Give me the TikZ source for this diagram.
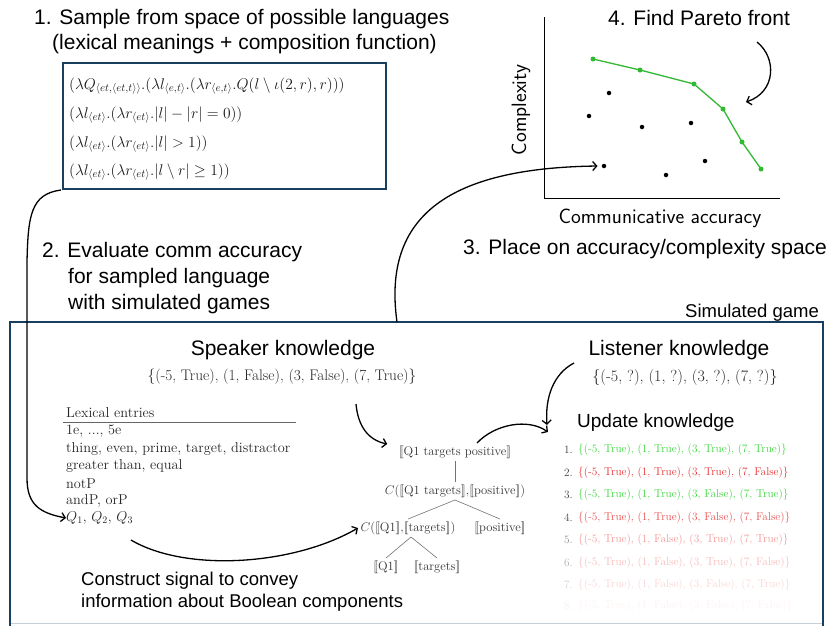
\RequirePackage{fix-cm}
\documentclass[tikz,border=0pt]{standalone}
\usepackage{fontspec}
\newfontfamily\arial{Liberation Sans}
\usetikzlibrary{arrows.meta}
\definecolor{navy}{RGB}{24,62,96}
\definecolor{pgreen}{RGB}{50,185,50}
\definecolor{tgreen}{RGB}{60,215,60}
\definecolor{tred}{RGB}{232,50,50}
\newcommand{\dlb}{\ensuremath{[\![}}
\newcommand{\drb}{\ensuremath{]\!]}}
\begin{document}
\begin{tikzpicture}[x=1pt,y=-1pt,
  hd/.style={font=\arial\fontsize{21}{24}\selectfont, inner sep=0, anchor=base west},
  sm/.style={font=\arial\fontsize{18.5}{22}\selectfont, inner sep=0, anchor=base west},
  frm/.style={font=\fontsize{15.5}{18}\selectfont, inner sep=0, anchor=west, text=black!90},
  lex/.style={font=\fontsize{14.3}{17}\selectfont, inner sep=0, anchor=west, text=black!85},
  kn/.style={font=\fontsize{15.3}{18}\selectfont, inner sep=0, text=black!85},
  tr/.style={font=\fontsize{12.6}{15}\selectfont, inner sep=2.5pt, text=black!80},
  trl/.style={draw=black!55, line width=0.6pt},
  lst/.style={font=\fontsize{11.3}{13}\selectfont, inner sep=0, anchor=west},
  num/.style={font=\fontsize{11.3}{13}\selectfont, inner sep=0, anchor=east},
  arr/.style={-{Straight Barb[length=4pt,width=9pt]}, line width=1.3pt},
  dot/.style={circle, fill=black, inner sep=0, minimum size=4.5pt},
  gdot/.style={circle, fill=pgreen, inner sep=0, minimum size=5pt},
  axl/.style={font=\sffamily\fontsize{20.8}{24}\selectfont, inner sep=0}]
\useasboundingbox (0,0) rectangle (828,625);
\fill[white] (0,0) rectangle (828,625);

% Step 1
\node[hd] (h1a) at (34,24) {1. Sample from space of possible languages};
\node[hd] (h1b) at (52,49) {(lexical meanings + composition function)};
\node[draw=navy, line width=2pt, minimum width=323pt, minimum height=126pt, anchor=north west, inner sep=0] (box1) at (62,62) {};
\node[frm] (f1) at (69,86) {$(\lambda Q_{\langle et,\langle et,t\rangle\rangle}.(\lambda l_{\langle e,t\rangle}.(\lambda r_{\langle e,t\rangle}.Q(l\setminus\iota(2,r),r)))$};
\node[frm] (f2) at (69,115) {$(\lambda l_{\langle et\rangle}.(\lambda r_{\langle et\rangle}.|l|-|r|=0))$};
\node[frm] (f3) at (69,144) {$(\lambda l_{\langle et\rangle}.(\lambda r_{\langle et\rangle}.|l|>1))$};
\node[frm] (f4) at (69,172) {$(\lambda l_{\langle et\rangle}.(\lambda r_{\langle et\rangle}.|l\setminus r|\geq 1))$};

% Step 2
\node[hd] (h2a) at (42,257) {2. Evaluate comm accuracy};
\node[hd] (h2b) at (68,283) {for sampled language};
\node[hd] (h2c) at (68,309) {with simulated games};

% Simulated game box
\node[sm] (sg) at (685,317) {Simulated game};
\coordinate (sgtl) at (10,322);
\coordinate (sgtr) at (823,322);
\draw[navy, line width=2pt] (10,626) -- (sgtl) -- (sgtr) -- (823,626);
\draw[navy!25, line width=1.2pt] (11,623.5) -- (822,623.5);

% Plot
\coordinate (ytop) at (544,17);
\coordinate (orig) at (544,198);
\coordinate (xend) at (780,198);
\draw[line width=1pt] (ytop) -- (orig) -- (xend);
\node[axl] (xl) at (660,218) {Communicative accuracy};
\node[axl, rotate=90] (yl) at (521,110) {Complexity};
\node[dot] (d1) at (589,116) {};
\node[dot] (d2) at (609,93) {};
\node[dot] (d3) at (642,127) {};
\node[dot] (d4) at (691,123) {};
\node[dot] (d5) at (705,161) {};
\node[dot] (d6) at (666,175) {};
\node[dot] (d7) at (604,166) {};
\node[gdot] (g1) at (593,59) {};
\node[gdot] (g2) at (640,70) {};
\node[gdot] (g3) at (694,84) {};
\node[gdot] (g4) at (723,109) {};
\node[gdot] (g5) at (742,142) {};
\node[gdot] (g6) at (761,169) {};
\draw[pgreen, line width=1.3pt] (g1.center) -- (g2.center) -- (g3.center) -- (g4.center) -- (g5.center) -- (g6.center);
\node[hd] (h4) at (608,25) {4. Find Pareto front};
\coordinate (pa) at (757,42);
\coordinate (pb) at (746,102);
\draw[arr] (pa) .. controls (777,58) and (776,92) .. (pb);
\node[hd] (h3) at (463,254) {3. Place on accuracy/complexity space};
\coordinate (sgtop) at (397,322);
\draw[arr] (sgtop) .. controls (382,215) and (450,168) .. ([xshift=-4pt]d7.west);

% Speaker / listener
\node[font=\arial\fontsize{21}{24}\selectfont, inner sep=0] (sk) at (283,350) {Speaker knowledge};
\node[kn] (sks) at (282,377) {\{(-5, True), (1, False), (3, False), (7, True)\}};
\node[font=\arial\fontsize{21}{24}\selectfont, inner sep=0] (lk) at (679,350) {Listener knowledge};
\node[kn, font=\fontsize{16}{18}\selectfont] (lks) at (685,377) {\{(-5, ?), (1, ?), (3, ?), (7, ?)\}};

% Lexical entries
\node[lex] (le0) at (66,413) {Lexical entries};
\draw[black!60, line width=0.7pt] (63,422) -- (296,422);
\node[lex] (le1) at (66,431) {1e, ..., 5e};
\node[lex] (le2) at (66,449) {thing, even, prime, target, distractor};
\node[lex] (le3) at (66,466) {greater than, equal};
\node[lex] (le4) at (66,484) {notP};
\node[lex] (le5) at (66,501) {andP, orP};
\node[lex] (le6) at (66,518) {$Q_1$, $Q_2$, $Q_3$};

% Tree
\node[tr] (t1) at (455,452) {\dlb Q1 targets positive\drb};
\node[tr] (t2) at (455,491) {$C($\dlb Q1 targets\drb,\dlb positive\drb$)$};
\node[tr] (t3) at (408,528) {$C($\dlb Q1\drb,\dlb targets\drb$)$};
\node[tr] (t4) at (500,528) {\dlb positive\drb};
\node[tr] (t5) at (386,567) {\dlb Q1\drb};
\node[tr] (t6) at (437,567) {\dlb targets\drb};
\draw[trl] (t1.south) -- (t2.north);
\draw[trl] (t2.south) -- (t3.north);
\draw[trl] (t2.south) -- (t4.north);
\draw[trl] ([xshift=3pt]t3.south) -- (t5.north);
\draw[trl] ([xshift=3pt]t3.south) -- (t6.north);

% Construct signal
\node[sm] (cs1) at (81,585) {Construct signal to convey};
\node[sm] (cs2) at (81,607) {information about Boolean components};

% Update knowledge
\node[font=\arial\fontsize{19}{22}\selectfont, inner sep=0, anchor=west] (uk) at (577,423) {Update knowledge};
\node[num, text=black!75] (n1) at (573,450) {1.};
\node[lst, text=tgreen] (u1) at (578,450) {\{(-5, True), (1, True), (3, True), (7, True)\}};
\node[num, text=black!75] (n2) at (573,473) {2.};
\node[lst, text=tred] (u2) at (578,473) {\{(-5, True), (1, True), (3, True), (7, False)\}};
\node[num, text=black!75] (n3) at (573,495) {3.};
\node[lst, text=tgreen] (u3) at (578,495) {\{(-5, True), (1, True), (3, False), (7, True)\}};
\node[num, text=black!70] (n4) at (573,518) {4.};
\node[lst, text=tred!85] (u4) at (578,518) {\{(-5, True), (1, True), (3, False), (7, False)\}};
\node[num, text=black!45] (n5) at (573,540) {5.};
\node[lst, text=tred!50] (u5) at (578,540) {\{(-5, True), (1, False), (3, True), (7, True)\}};
\node[num, text=black!30] (n6) at (573,563) {6.};
\node[lst, text=tred!33] (u6) at (578,563) {\{(-5, True), (1, False), (3, True), (7, False)\}};
\node[num, text=black!18] (n7) at (573,585) {7.};
\node[lst, text=tred!20] (u7) at (578,585) {\{(-5, True), (1, False), (3, False), (7, True)\}};
\node[num, text=black!5] (n8) at (573,606) {8.};
\node[lst, text=tred!6] (u8) at (578,606) {\{(-5, True), (1, False), (3, False), (7, False)\}};

% Connectors
\coordinate (b1c) at (61,190);
\draw[arr] (b1c) .. controls (31,194) and (28,215) .. (27,262) -- (27,478) .. controls (27,505) and (40,513) .. (le6.west);
\coordinate (lexend) at (131,540);
\draw[arr] (lexend) .. controls (185,572) and (292,566) .. (t3.west);
\coordinate (skend) at (356,404);
\draw[arr] (skend) .. controls (358,426) and (368,440) .. ([xshift=-9pt,yshift=8pt]t1.west);
\coordinate (ukin) at (548,432);
\draw[arr] ([xshift=22pt]t1.north) .. controls (495,424) and (528,418) .. (ukin);
\coordinate (lkend) at (574,363);
\coordinate (ukin2) at (547,425);
\draw[arr] (lkend) .. controls (553,374) and (545,398) .. (ukin2);
\end{tikzpicture}
\end{document}
